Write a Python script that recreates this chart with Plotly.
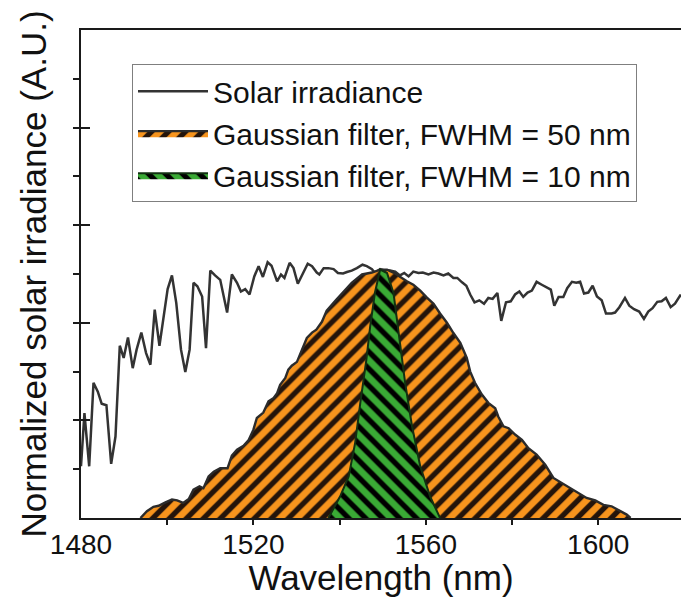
import plotly.graph_objects as go

# ---- Solar irradiance (normalized) ----
solar_wl = [1480.0, 1480.8, 1481.9, 1482.9, 1483.9, 1484.8, 1485.9, 1487.0, 1488.0, 1489.0,
            1489.9, 1490.9, 1492.0, 1492.9, 1494.0, 1495.1, 1496.1, 1497.1, 1498.2, 1500.1,
            1501.1, 1502.1, 1503.2, 1504.2, 1505.2, 1506.1, 1507.0, 1508.1, 1509.0, 1510.0,
            1511.1, 1512.3, 1513.9, 1515.0, 1516.2, 1517.1, 1518.1, 1519.1, 1520.2, 1521.2,
            1522.2, 1523.3, 1524.2, 1525.5, 1526.4, 1527.2, 1528.4, 1529.3, 1530.3, 1531.5,
            1532.6, 1533.6, 1534.7, 1535.3, 1536.3, 1537.4, 1538.6, 1539.6, 1540.8, 1541.7,
            1542.8, 1544.0, 1545.3, 1546.3, 1547.5, 1548.2, 1549.4, 1550.6, 1551.7, 1552.9,
            1554.0, 1555.0, 1556.0, 1557.1, 1558.3, 1559.3, 1560.6, 1561.8, 1562.9, 1564.1,
            1565.2, 1566.4, 1567.3, 1568.4, 1569.4, 1570.3, 1571.3, 1572.4, 1573.5, 1574.5,
            1575.5, 1576.6, 1577.5, 1578.6, 1579.7, 1580.7, 1581.7, 1582.6, 1583.6, 1584.6,
            1585.7, 1586.9, 1588.4, 1589.0, 1589.8, 1590.8, 1591.9, 1592.8, 1593.9, 1594.9,
            1595.8, 1596.7, 1597.7, 1598.7, 1599.7, 1600.8, 1601.8, 1603.1, 1603.9, 1604.9,
            1606.2, 1607.2, 1608.3, 1609.5, 1610.6, 1611.6, 1612.6, 1613.7, 1614.7, 1615.7,
            1616.8, 1617.8, 1619.0, 1620.0]
solar_val = [0.106, 0.215, 0.106, 0.277, 0.259, 0.234, 0.231, 0.111, 0.167, 0.353,
             0.328, 0.370, 0.307, 0.345, 0.380, 0.338, 0.314, 0.427, 0.353, 0.469,
             0.497, 0.441, 0.345, 0.299, 0.345, 0.482, 0.475, 0.454, 0.348, 0.507,
             0.497, 0.488, 0.421, 0.499, 0.482, 0.464, 0.469, 0.458, 0.495, 0.516,
             0.494, 0.524, 0.517, 0.485, 0.499, 0.492, 0.523, 0.512, 0.480, 0.502,
             0.521, 0.516, 0.503, 0.499, 0.512, 0.512, 0.510, 0.502, 0.501, 0.504,
             0.507, 0.512, 0.519, 0.516, 0.510, 0.502, 0.510, 0.507, 0.507, 0.505,
             0.497, 0.502, 0.495, 0.505, 0.502, 0.503, 0.499, 0.503, 0.501, 0.497,
             0.501, 0.492, 0.492, 0.483, 0.476, 0.458, 0.442, 0.446, 0.439, 0.451,
             0.449, 0.461, 0.404, 0.442, 0.444, 0.458, 0.464, 0.453, 0.462, 0.466,
             0.484, 0.478, 0.471, 0.468, 0.435, 0.453, 0.453, 0.471, 0.484, 0.482,
             0.484, 0.460, 0.462, 0.476, 0.454, 0.446, 0.419, 0.419, 0.421, 0.432,
             0.451, 0.435, 0.428, 0.423, 0.408, 0.423, 0.430, 0.443, 0.444, 0.451,
             0.432, 0.439, 0.456, 0.452]

# ---- Gaussian filter, FWHM = 50 nm ----
f50_wl = [1493.8, 1495.3, 1496.8, 1498.0, 1499.6, 1501.1, 1502.3, 1503.7, 1505.0, 1506.1,
          1507.5, 1508.4, 1509.6, 1510.8, 1512.3, 1514.0, 1515.0, 1516.2, 1517.7, 1518.9,
          1520.0, 1520.8, 1522.3, 1523.5, 1524.7, 1525.5, 1526.2, 1527.4, 1528.1, 1528.9,
          1530.1, 1531.3, 1532.4, 1533.6, 1534.6, 1535.9, 1537.0, 1539.0, 1541.3, 1542.8,
          1545.2, 1547.5, 1549.4, 1551.0, 1552.5, 1554.0, 1555.6, 1557.1, 1558.7, 1560.2,
          1561.8, 1563.3, 1564.9, 1566.4, 1568.0, 1569.5, 1570.3, 1571.4, 1573.0, 1574.5,
          1576.1, 1576.8, 1578.0, 1579.2, 1580.7, 1582.3, 1583.8, 1585.7, 1587.7, 1589.6,
          1591.5, 1593.5, 1595.4, 1597.3, 1599.3, 1601.2, 1603.1, 1604.7, 1606.6, 1607.5]
f50_val = [0.000, 0.014, 0.023, 0.025, 0.032, 0.038, 0.036, 0.031, 0.039, 0.058,
           0.065, 0.061, 0.085, 0.095, 0.102, 0.102, 0.128, 0.140, 0.148, 0.160,
           0.181, 0.205, 0.216, 0.239, 0.246, 0.256, 0.273, 0.287, 0.304, 0.312,
           0.320, 0.345, 0.369, 0.380, 0.386, 0.402, 0.425, 0.445, 0.468, 0.482,
           0.499, 0.503, 0.509, 0.509, 0.503, 0.494, 0.485, 0.478, 0.466, 0.452,
           0.439, 0.419, 0.400, 0.379, 0.359, 0.328, 0.300, 0.277, 0.253, 0.236,
           0.225, 0.208, 0.188, 0.184, 0.171, 0.160, 0.143, 0.130, 0.109, 0.082,
           0.072, 0.061, 0.051, 0.041, 0.036, 0.027, 0.024, 0.017, 0.007, 0.000]

# ---- Gaussian filter, FWHM = 10 nm ----
f10_wl = [1537.4, 1540.1, 1542.1, 1543.6, 1544.8, 1546.2, 1547.1, 1548.2, 1549.4,
          1551.0, 1552.5, 1553.7, 1555.2, 1556.8, 1558.7, 1561.0, 1563.3]
f10_val = [0.000, 0.044, 0.085, 0.154, 0.236, 0.324, 0.393, 0.462, 0.509,
           0.502, 0.461, 0.379, 0.277, 0.188, 0.106, 0.044, 0.000]

FONT = "Liberation Sans, Arial, sans-serif"
ORANGE = "#F7941D"
GREEN = "#3AAA35"

fig = go.Figure()
fig.add_trace(go.Scatter(
    x=solar_wl, y=solar_val, mode="lines", name="Solar irradiance",
    line=dict(color="#333333", width=2.5)))
fig.add_trace(go.Scatter(
    x=f50_wl, y=f50_val, mode="lines", name="Gaussian filter, FWHM = 50 nm",
    fill="tozeroy", fillcolor=ORANGE,
    fillpattern=dict(shape="/", bgcolor=ORANGE, fgcolor="#24140a", fgopacity=1,
                     size=12, solidity=0.45),
    line=dict(color="#2b2b2b", width=2.4)))
fig.add_trace(go.Scatter(
    x=f10_wl, y=f10_val, mode="lines", name="Gaussian filter, FWHM = 10 nm",
    fill="tozeroy", fillcolor=GREEN,
    fillpattern=dict(shape="\\", bgcolor=GREEN, fgcolor="#000000", fgopacity=1,
                     size=12, solidity=0.45),
    line=dict(color="#123012", width=2)))

fig.update_layout(
    width=681, height=597,
    margin=dict(l=81, r=0, t=30, b=79),
    paper_bgcolor="white", plot_bgcolor="white",
    font=dict(family=FONT, color="#111111"),
    showlegend=True,
    legend=dict(
        x=0.085, y=0.93, xanchor="left", yanchor="top",
        bgcolor="white", bordercolor="#7f7f7f", borderwidth=1,
        font=dict(family=FONT, size=30, color="#111111"),
        itemwidth=70, tracegroupgap=0,
    ),
    xaxis=dict(
        range=[1480, 1619.2], tick0=1480, dtick=40,
        ticks="inside", ticklen=0, tickwidth=2, tickcolor="#1a1a1a",
        minor=dict(tick0=1480, dtick=20, ticks="outside", ticklen=5, tickwidth=2, tickcolor="#1a1a1a"),
        showline=True, linecolor="#1a1a1a", linewidth=2, mirror=True,
        showgrid=False, zeroline=False,
        tickfont=dict(family=FONT, size=28, color="#111111"),
        title=dict(text="Wavelength (nm)", font=dict(family=FONT, size=35, color="#111111"), standoff=4),
    ),
    yaxis=dict(
        range=[0, 1.0], tick0=0, dtick=0.2,
        ticks="inside", ticklen=9, tickwidth=2, tickcolor="#1a1a1a",
        minor=dict(tick0=0, dtick=0.1, ticks="outside", ticklen=6, tickwidth=2, tickcolor="#1a1a1a"),
        showticklabels=False,
        showline=True, linecolor="#1a1a1a", linewidth=2,
        showgrid=False, zeroline=False,
        title=dict(text="Normalized solar irradiance (A.U.)", font=dict(family=FONT, size=35, color="#111111"), standoff=22),
    ),
)

fig.write_html("out.html")
